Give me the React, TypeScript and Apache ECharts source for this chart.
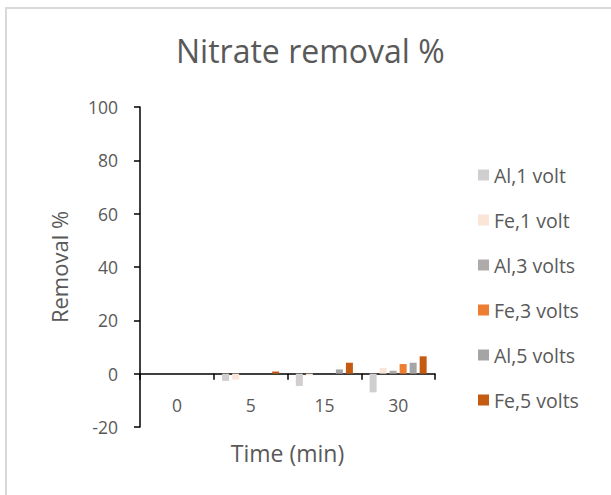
import React, { useEffect, useRef } from "react";
import * as echarts from "echarts";

const categories = ["0", "5", "15", "30"];
const seriesNames = ["Al,1 volt", "Fe,1 volt", "Al,3 volts", "Fe,3 volts", "Al,5 volts", "Fe,5 volts"];
const al1 = [0, -2.7, -4.6, -7];
const fe1 = [0, -2.2, -0.6, 2.1];
const al3 = [0, 0, 0, 1.1];
const fe3 = [0, 0, 0, 3.6];
const al5 = [0, 0, 1.6, 4.1];
const fe5 = [0, 0.8, 4.1, 6.5];
const colors = ["#d0cece", "#fbe5d6", "#aeaaaa", "#ed7d31", "#a5a5a5", "#c55a11"];

const FONT = "Open Sans";
const TXT = "#595959";

export default function App() {
  const ref = useRef<HTMLDivElement>(null);
  useEffect(() => {
    if (!ref.current) return;
    const chart = echarts.init(ref.current, undefined, { renderer: "svg" });
    const data = [al1, fe1, al3, fe3, al5, fe5];
    chart.setOption({
      animation: false,
      backgroundColor: "#ffffff",
      textStyle: { fontFamily: FONT, color: TXT },
      title: {
        text: "Nitrate removal %",
        left: 171,
        top: 29,
        textStyle: { fontFamily: FONT, fontSize: 32, fontWeight: "normal", color: TXT },
      },
      graphic: [
        {
          type: "rect",
          shape: { x: 6, y: 8, width: 700, height: 600 },
          style: { fill: "none", stroke: "#d9d9d9", lineWidth: 2 },
          silent: true,
        },
      ],
      legend: {
        orient: "vertical",
        left: 473,
        top: 160,
        itemWidth: 11,
        itemHeight: 11,
        itemGap: 25,
        icon: "rect",
        textStyle: { fontFamily: FONT, fontSize: 19.5, color: TXT },
        data: seriesNames,
      },
      grid: { left: 140, right: 176, top: 107, bottom: 68, containLabel: false, outerBoundsMode: "none" },
      xAxis: {
        type: "category",
        data: categories,
        name: "Time (min)",
        nameLocation: "middle",
        nameGap: 14,
        nameMoveOverlap: false,
        nameTextStyle: { fontFamily: FONT, fontSize: 23, color: TXT },
        axisLine: { onZero: true, lineStyle: { color: "#000", width: 1.5 } },
        axisTick: { show: true, length: 6, lineStyle: { color: "#000", width: 1.5 } },
        axisLabel: { margin: -31, fontFamily: FONT, fontSize: 17.5, color: TXT },
        splitLine: { show: false },
      },
      yAxis: {
        type: "value",
        min: -20,
        max: 100,
        interval: 20,
        name: "Removal %",
        nameLocation: "middle",
        nameRotate: 90,
        nameGap: 70,
        nameTextStyle: { fontFamily: FONT, fontSize: 22, color: TXT },
        axisLine: { show: true, lineStyle: { color: "#000", width: 1.5 } },
        axisTick: { show: true, length: 6, lineStyle: { color: "#000", width: 1.5 } },
        axisLabel: { margin: 22, fontFamily: FONT, fontSize: 17.5, color: TXT },
        splitLine: { show: false },
      },
      series: seriesNames.map((n, i) => ({
        name: n,
        type: "bar",
        data: data[i],
        barWidth: 7,
        barGap: "43%",
        itemStyle: { color: colors[i] },
      })),
    });
    return () => chart.dispose();
  }, []);
  return (
    <div
      ref={ref}
      style={{ position: "fixed", left: 0, top: 0, width: 611, height: 495 }}
    />
  );
}
